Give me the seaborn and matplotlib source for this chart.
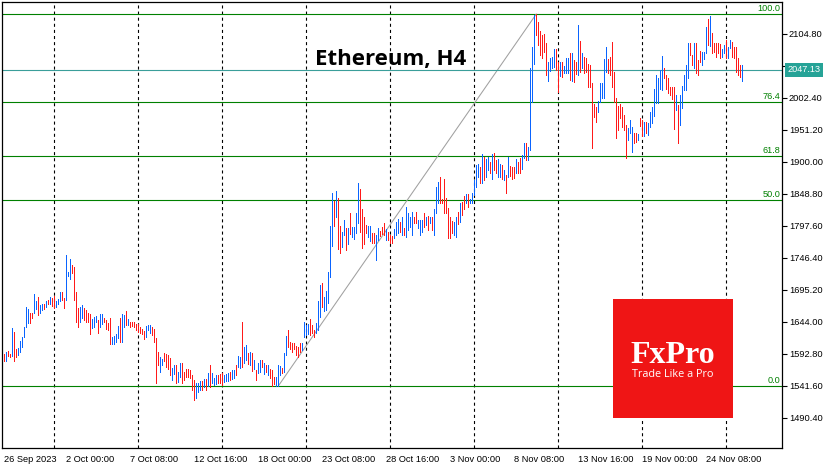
import numpy as np
import pandas as pd
import seaborn as sns
import matplotlib.pyplot as plt
from matplotlib.patches import Rectangle

# ETH H4 bars, 26 Sep 20:00 .. 27 Nov (one value per 4h bar)
bar_high = [
    1591.7, 1596.0, 1597.1, 1591.7, 1633.9, 1627.0, 1599.8, 1601.4, 1613.1, 1620.0,
    1635.5, 1667.5, 1664.3, 1657.4, 1657.4, 1688.3, 1677.1, 1683.0, 1670.7, 1671.8,
    1671.8, 1677.1, 1678.2, 1683.5, 1681.4, 1685.6, 1677.1, 1680.3, 1691.5, 1691.5,
    1682.4, 1750.7, 1724.0, 1744.3, 1734.7, 1731.5, 1691.5, 1666.4, 1667.5, 1670.7,
    1666.4, 1662.2, 1657.9, 1656.8, 1648.3, 1651.5, 1652.6, 1647.2, 1656.8, 1655.8,
    1650.4, 1646.2, 1641.9, 1650.4, 1619.5, 1620.6, 1624.8, 1637.6, 1650.4, 1655.8,
    1654.7, 1661.1, 1648.3, 1644.0, 1643.0, 1643.0, 1639.8, 1640.8, 1635.5, 1632.8,
    1629.1, 1636.6, 1638.7, 1638.7, 1636.0, 1631.8, 1617.4, 1596.0, 1588.0, 1583.8,
    1593.4, 1591.8, 1590.7, 1585.4, 1569.4, 1574.7, 1574.7, 1564.0, 1577.4, 1577.4,
    1564.0, 1567.8, 1567.8, 1566.7, 1558.7, 1550.7, 1546.4, 1545.4, 1549.6, 1549.6,
    1551.8, 1551.8, 1562.4, 1574.7, 1561.4, 1554.4, 1558.7, 1558.7, 1560.3, 1561.4,
    1558.7, 1560.3, 1562.4, 1564.0, 1566.7, 1566.7, 1574.7, 1589.1, 1588.0, 1644.0,
    1603.0, 1606.7, 1594.4, 1596.0, 1593.4, 1582.7, 1566.7, 1578.4, 1582.7, 1582.7,
    1577.4, 1574.7, 1574.7, 1567.8, 1566.7, 1556.0, 1556.0, 1574.7, 1573.1, 1569.4,
    1594.4, 1621.1, 1630.7, 1612.0, 1610.4, 1609.4, 1605.6, 1603.0, 1610.4, 1610.4,
    1644.0, 1638.7, 1639.8, 1647.8, 1638.7, 1630.7, 1642.4, 1677.1, 1702.7, 1705.4,
    1684.0, 1693.6, 1723.0, 1797.1, 1850.4, 1837.6, 1853.6, 1841.4, 1797.1, 1788.0,
    1806.7, 1794.4, 1793.4, 1818.4, 1795.0, 1795.0, 1818.4, 1865.4, 1855.8, 1823.8,
    1812.0, 1798.7, 1797.1, 1797.1, 1786.4, 1786.4, 1782.7, 1793.4, 1789.6, 1795.0,
    1802.4, 1791.8, 1788.0, 1782.7, 1781.1, 1791.8, 1804.0, 1807.8, 1804.0, 1811.0,
    1793.4, 1828.0, 1818.4, 1811.0, 1820.0, 1812.0, 1820.0, 1806.7, 1806.7, 1806.7,
    1818.4, 1812.0, 1813.1, 1811.0, 1812.0, 1823.8, 1860.0, 1868.0, 1876.0, 1839.8,
    1871.8, 1841.4, 1825.4, 1812.0, 1805.6, 1804.0, 1812.0, 1820.0, 1834.4, 1836.0,
    1845.0, 1848.3, 1848.3, 1839.8, 1850.4, 1870.7, 1894.7, 1896.3, 1891.0, 1912.3,
    1908.0, 1903.8, 1908.0, 1900.0, 1911.8, 1914.4, 1902.7, 1903.8, 1896.3, 1894.7,
    1886.7, 1878.7, 1908.0, 1893.1, 1892.0, 1892.0, 1903.8, 1900.0, 1905.4, 1910.7,
    1929.4, 1929.4, 1923.0, 2049.4, 2084.0, 2134.7, 2136.3, 2124.0, 2109.6, 2102.7,
    2104.3, 2089.4, 2060.0, 2066.4, 2068.0, 2079.8, 2079.8, 2060.0, 2060.0, 2060.0,
    2053.1, 2065.4, 2065.4, 2074.4, 2074.4, 2062.7, 2060.0, 2118.7, 2093.6, 2073.4,
    2068.0, 2065.4, 2056.3, 2054.7, 2026.4, 1992.3, 1988.0, 1997.6, 2026.4, 2026.4,
    2063.8, 2083.0, 2063.8, 2067.0, 2092.0, 2044.0, 2001.4, 1989.1, 1992.3, 1987.0,
    1974.7, 1958.7, 1953.4, 1966.7, 1956.0, 1946.4, 1946.4, 1944.3, 1969.4, 1966.7,
    1964.0, 1964.0, 1961.4, 1980.0, 1988.0, 2016.3, 2038.7, 2033.4, 2046.7, 2069.1,
    2049.4, 2038.7, 2033.4, 2020.0, 2019.0, 2020.0, 2006.7, 1990.7, 2006.7, 2021.1,
    2038.7, 2054.7, 2090.4, 2090.4, 2070.7, 2089.4, 2089.4, 2062.7, 2077.6, 2076.0,
    2076.0, 2116.0, 2127.8, 2133.1, 2105.4, 2090.4, 2089.4, 2090.4, 2088.3, 2079.8,
    2086.7, 2094.7, 2083.0, 2094.7, 2092.0, 2084.0, 2083.0, 2065.4, 2054.7, 2054.7,
]
bar_low = [
    1581.6, 1581.6, 1589.1, 1588.0, 1589.1, 1580.6, 1588.0, 1590.7, 1596.0, 1604.0,
    1620.0, 1635.5, 1642.4, 1642.4, 1650.4, 1657.4, 1664.3, 1654.7, 1657.4, 1662.7,
    1664.3, 1668.0, 1671.8, 1671.8, 1669.1, 1665.4, 1668.0, 1671.8, 1677.1, 1678.2,
    1665.4, 1678.7, 1717.6, 1711.8, 1721.4, 1678.7, 1643.0, 1636.0, 1644.0, 1649.4,
    1647.2, 1644.0, 1643.0, 1623.8, 1633.4, 1635.5, 1643.5, 1626.4, 1635.5, 1639.8,
    1643.0, 1631.8, 1630.2, 1607.8, 1607.8, 1608.8, 1612.0, 1617.4, 1612.0, 1611.0,
    1635.5, 1638.7, 1638.7, 1636.0, 1637.1, 1636.0, 1630.2, 1627.0, 1625.4, 1623.8,
    1616.8, 1619.5, 1630.2, 1625.4, 1622.7, 1612.0, 1546.4, 1574.7, 1564.0, 1574.7,
    1581.6, 1572.0, 1567.8, 1558.7, 1550.7, 1559.8, 1546.4, 1548.0, 1556.0, 1546.4,
    1550.7, 1556.0, 1556.0, 1553.4, 1534.7, 1518.7, 1521.4, 1532.0, 1534.7, 1534.7,
    1540.0, 1534.7, 1541.1, 1540.0, 1546.4, 1542.7, 1544.3, 1545.4, 1545.4, 1542.7,
    1548.0, 1549.6, 1549.6, 1550.7, 1551.8, 1553.4, 1558.7, 1572.0, 1569.4, 1572.0,
    1577.4, 1582.7, 1576.3, 1574.7, 1565.6, 1567.8, 1550.7, 1561.4, 1564.0, 1572.0,
    1560.3, 1564.0, 1558.7, 1554.4, 1541.1, 1544.3, 1541.1, 1541.1, 1558.7, 1561.4,
    1564.0, 1590.7, 1604.0, 1599.8, 1596.0, 1599.8, 1590.7, 1588.0, 1596.0, 1598.0,
    1620.0, 1622.7, 1623.8, 1622.7, 1625.4, 1620.0, 1625.4, 1630.7, 1652.0, 1668.0,
    1661.6, 1662.7, 1674.4, 1716.0, 1765.1, 1797.6, 1812.0, 1759.8, 1754.4, 1763.0,
    1782.7, 1758.7, 1768.3, 1783.8, 1779.0, 1775.8, 1786.4, 1802.4, 1788.0, 1762.4,
    1768.3, 1786.4, 1780.0, 1773.1, 1769.4, 1769.4, 1742.7, 1774.7, 1781.1, 1784.3,
    1782.7, 1774.7, 1774.7, 1769.4, 1770.4, 1777.4, 1782.7, 1785.4, 1788.0, 1782.7,
    1782.7, 1779.0, 1790.7, 1795.0, 1782.7, 1801.4, 1801.4, 1793.4, 1782.7, 1788.0,
    1796.0, 1798.7, 1790.7, 1801.4, 1790.7, 1782.7, 1817.4, 1833.4, 1834.4, 1833.4,
    1817.4, 1817.4, 1777.4, 1777.4, 1785.4, 1782.7, 1779.0, 1800.3, 1804.0, 1814.7,
    1824.0, 1833.4, 1828.0, 1833.4, 1834.4, 1846.7, 1860.0, 1876.0, 1866.4, 1865.4,
    1870.7, 1876.0, 1886.7, 1881.4, 1871.8, 1886.7, 1881.4, 1876.0, 1876.0, 1871.8,
    1870.7, 1849.4, 1876.0, 1877.1, 1871.8, 1873.4, 1881.4, 1881.4, 1881.4, 1887.8,
    1905.4, 1902.7, 1902.7, 1918.7, 1996.0, 2056.3, 2102.7, 2086.7, 2070.7, 2065.4,
    2076.0, 2038.7, 2029.6, 2045.6, 2049.4, 2052.0, 2046.7, 2012.0, 2037.1, 2036.0,
    2041.4, 2041.4, 2041.4, 2030.7, 2029.6, 2028.0, 2040.3, 2038.7, 2044.0, 2049.4,
    2041.4, 2044.0, 2020.0, 2019.0, 1921.4, 1971.0, 1964.0, 1980.0, 1996.0, 2001.4,
    2001.4, 2044.0, 2041.4, 2038.7, 2019.0, 1996.0, 1937.4, 1950.7, 1969.4, 1956.0,
    1950.7, 1905.4, 1934.7, 1946.4, 1916.0, 1929.4, 1932.0, 1934.7, 1957.1, 1941.1,
    1941.1, 1945.4, 1942.7, 1956.0, 1961.4, 1973.1, 1994.4, 1994.4, 2015.8, 2014.7,
    2033.4, 2015.8, 2009.4, 2006.7, 1999.8, 1951.8, 1982.7, 1929.4, 1958.7, 1985.4,
    2014.7, 2014.7, 2033.4, 2070.7, 2054.7, 2049.4, 2041.4, 2038.7, 2060.0, 2054.7,
    2063.8, 2073.4, 2086.7, 2085.1, 2073.4, 2076.0, 2068.0, 2074.4, 2065.4, 2068.0,
    2073.4, 2065.4, 2065.4, 2081.4, 2068.0, 2065.4, 2044.0, 2038.7, 2036.0, 2029.6,
]
# u = bullish bar, d = bearish bar
bar_dir = "".join([
    "duddudduuu", "uuudduuduu", "dududduuud", "duuudddduu", "dddduuuduu",
    "dddduuuudu", "ududdddddd", "duuudddduu", "dddduuduud", "dddddduuud",
    "ududuuuddd", "uuuduuduud", "uudududuud", "ududdduuud", "uudddddddu",
    "uuuddduuud", "uuuuududdu", "ududuuuudd", "dduudduudd", "duddduuudu",
    "duuuudduuu", "dududuuudd", "ddddduudud", "duduuuuudu", "duududduud",
    "ududdduddu", "uduuuudddd", "dduuuuddud", "uuududdudu", "ddddddduuu",
    "uudddddddd", "dduuuddudd", "uduuuuuuuu", "dddddduduu", "uuuddudddu",
    "uududddddu", "uduudddddu",
])

last_price = 2047.13
fib_low, fib_high = 1541.1, 2136.3
fib_start, fib_end = 137, 266          # bar index of the two anchors
fib_ratios = [1.0, 0.764, 0.618, 0.5, 0.0]
fib_labels = ["100.0", "76.4", "61.8", "50.0", "0.0"]

tick_bars = [0, 31, 63, 95, 127, 159, 191, 223, 255, 287, 319, 351]
tick_labels = ["26 Sep 2023", "2 Oct 00:00", "7 Oct 08:00", "12 Oct 16:00",
               "18 Oct 00:00", "23 Oct 08:00", "28 Oct 16:00", "3 Nov 00:00",
               "8 Nov 08:00", "13 Nov 16:00", "19 Nov 00:00", "24 Nov 08:00"]
week_bars = [25, 67, 109, 151, 193, 235, 277, 319, 361]
price_ticks = [1490.40 + 51.2 * i for i in range(13)]

df = pd.DataFrame({"high": bar_high, "low": bar_low, "dir": list(bar_dir)})
df["idx"] = np.arange(len(df))

sns.set_style("white")
plt.rcParams["font.family"] = ["Liberation Sans", "DejaVu Sans"]
plt.rcParams["lines.scale_dashes"] = False

fig = plt.figure(figsize=(8.35, 4.7), dpi=100)
ax = fig.add_axes([2 / 835, 22 / 470, 780 / 835, 446 / 470])

UP, DOWN = "#0a64ff", "#ff1a1a"
GREEN = "#008000"
colors = [UP if d == "u" else DOWN for d in df["dir"]]
ax.vlines(df["idx"], df["low"], df["high"], colors=colors, lw=0.72,
          antialiased=False, zorder=3)

for b in week_bars:
    ax.axvline(b, color="black", lw=0.8, ls=(0, (2.2, 2.2)), zorder=1)

# fibonacci levels
for r, lab in zip(fib_ratios, fib_labels):
    lvl = fib_low + r * (fib_high - fib_low)
    ax.axhline(lvl, color=GREEN, lw=0.8, zorder=2)
    ax.text(0.9975, lvl + 1.5, lab, transform=ax.get_yaxis_transform(),
            ha="right", va="bottom", color=GREEN, fontsize=6.6)
ax.plot([fib_start, fib_end], [fib_low, fib_high], color="#a0a0a0",
        lw=0.75, zorder=2)

# current price
ax.axhline(last_price, color="#3a9e9a", lw=0.8, zorder=2)
ax.text(1.0072, last_price, f"{last_price:.2f}", transform=ax.get_yaxis_transform(),
        ha="left", va="center", color="white", fontsize=6.6, zorder=10,
        clip_on=False,
        bbox=dict(boxstyle="square,pad=0.28", fc="#26a397", ec="none"))

ax.set_xlim(-1.15, 388.85)
ax.set_ylim(1441.9, 2155.5)

ax.set_xticks(tick_bars)
ax.set_xticklabels(tick_labels, ha="left", fontsize=6.7)
ax.yaxis.tick_right()
ax.set_yticks(price_ticks)
ax.set_yticklabels([f"{p:.2f}" for p in price_ticks], fontsize=6.7)
ax.tick_params(axis="x", direction="out", length=4, width=0.8, pad=1, colors="black")
ax.tick_params(axis="y", direction="out", length=3.5, width=0.8, pad=1.5, colors="black")
for s in ax.spines.values():
    s.set_visible(True)
    s.set_color("black")
    s.set_linewidth(0.9)
ax.grid(False)
ax.set_facecolor("white")

fig.text(391 / 835, 1 - 59 / 470, "Ethereum, H4", ha="center", va="center",
         color="black", fontsize=16, fontweight="bold",
         family=["Open Sans", "DejaVu Sans"])

# FxPro badge
fig.patches.append(Rectangle((613 / 835, 1 - 418 / 470), 120 / 835, 119 / 470,
                             transform=fig.transFigure, fc="#ef1515", ec="none",
                             zorder=5))
fig.text(673 / 835, 1 - 363 / 470, "FxPro", ha="center", va="baseline",
         color="white", fontsize=23, fontweight="bold",
         family=["Liberation Serif", "DejaVu Serif"], zorder=6)
fig.text(673 / 835, 1 - 377 / 470, "Trade Like a Pro", ha="center", va="baseline",
         color="white", fontsize=7.8, family=["Open Sans", "DejaVu Sans"], zorder=6)

fig.savefig("out.png", dpi=100, facecolor="white")
